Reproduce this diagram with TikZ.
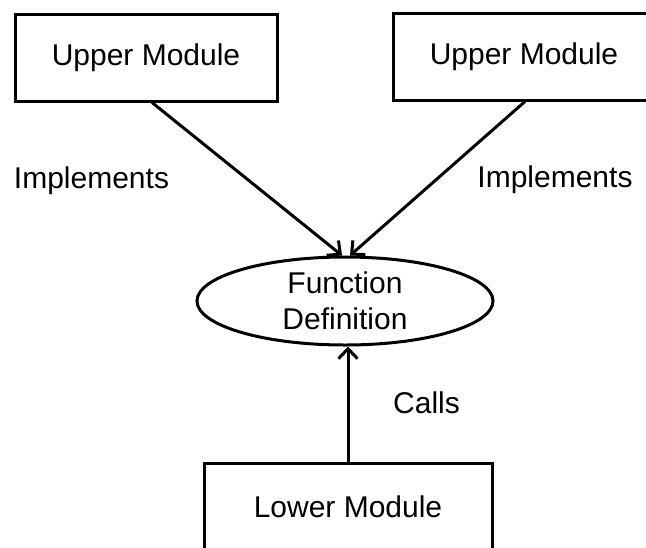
\documentclass[tikz,border=0pt]{standalone}
\usepackage{fontspec}
\setmainfont{Liberation Sans}
\usetikzlibrary{arrows.meta,shapes.geometric}
\begin{document}
\begin{tikzpicture}[x=1pt,y=-1pt,
  lbl/.style={font=\fontsize{30}{36}\selectfont, inner sep=0pt, anchor=base},
  modbox/.style={draw, line width=3pt, minimum width=262pt, minimum height=87pt, inner sep=0pt, font=\fontsize{30}{36}\selectfont},
  fnell/.style={draw, ellipse, line width=3pt, minimum width=296pt, minimum height=88pt, inner sep=0pt, align=center, font=\fontsize{30}{36}\selectfont},
  arr/.style={line width=3pt, -{Straight Barb[length=10pt,width=19pt,line width=3pt]}}]
\useasboundingbox[fill=white] (0,0) rectangle (646,547);
\node[modbox] (ul) at (146,57.5) {Upper Module};
\node[modbox] (ur) at (524,56.5) {Upper Module};
\node[modbox, minimum width=288pt, minimum height=88pt] (lm) at (348,507) {Lower Module};
\node[fnell] (fd) at (345,301) {Function\\Definition};
\node[lbl] (li) at (91.5,188) {Implements};
\node[lbl] (ri) at (555,187) {Implements};
\node[lbl] (ca) at (426.5,413) {Calls};
\draw[arr] ([xshift=6pt]ul.south) -- ([xshift=-3pt]fd.north);
\draw[arr] ([xshift=1pt]ur.south) -- ([xshift=5pt]fd.north);
\draw[arr] (lm.north) -- (lm.north |- fd.south);
\end{tikzpicture}
\end{document}
